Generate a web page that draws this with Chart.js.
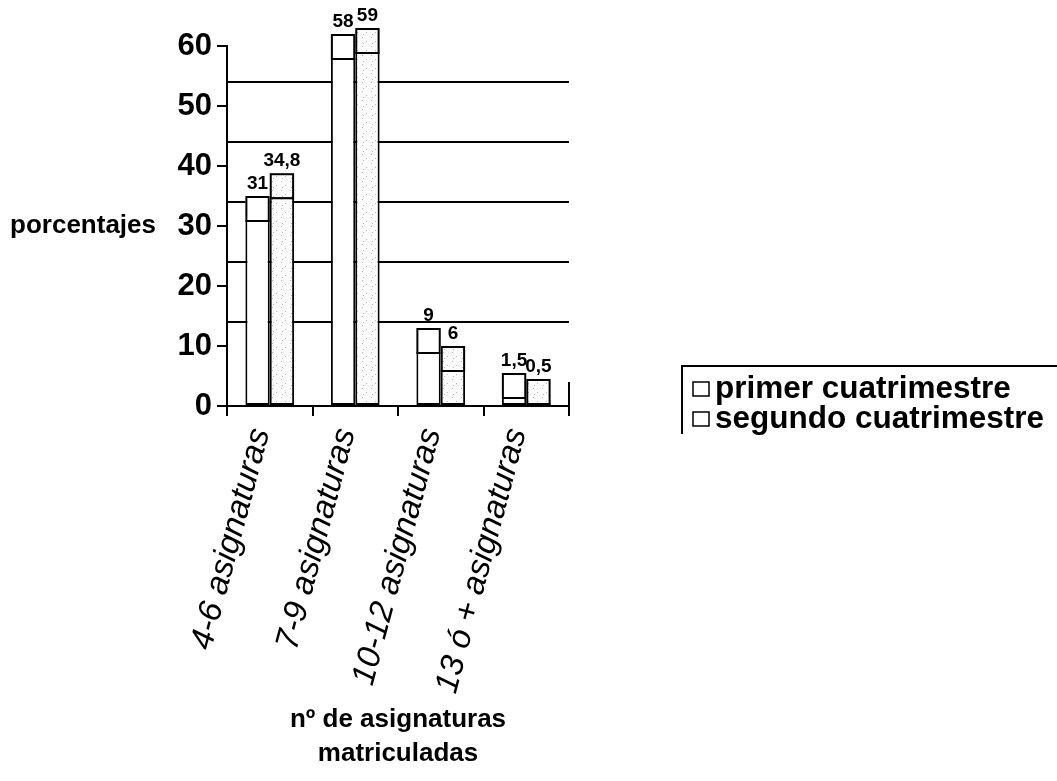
<!DOCTYPE html>
<html>
<head>
<meta charset="utf-8">
<script src="https://cdn.jsdelivr.net/npm/chart.js@4.4.1/dist/chart.umd.min.js"></script>
<style>
  html, body { margin: 0; padding: 0; background: #fff; }
  #wrap { position: relative; width: 1057px; height: 781px; }
</style>
</head>
<body>
<div id="wrap"><canvas id="grafico-asignaturas"></canvas></div>
<script>
const categorias = ["4-6 asignaturas", "7-9 asignaturas", "10-12 asignaturas", "13 ó + asignaturas"];
const primerCuatrimestre = [31, 58, 9, 1.5];
const segundoCuatrimestre = [34.8, 59, 6, 0.5];
const serieNombres = ["primer cuatrimestre", "segundo cuatrimestre"];

// profundidad del efecto 3D, en unidades del eje
const DEPTH = 4;
const FUENTE = "'Liberation Sans', Arial, sans-serif";

const canvas = document.getElementById("grafico-asignaturas");
const ctx0 = canvas.getContext("2d");

// trama punteada clara para el segundo cuatrimestre
function punteado() {
  const c = document.createElement("canvas");
  c.width = 9; c.height = 9;
  const g = c.getContext("2d");
  g.fillStyle = "#fbfbfb";
  g.fillRect(0, 0, 9, 9);
  g.fillStyle = "#b8b8b8";
  g.fillRect(2, 1, 1, 1);
  g.fillRect(6, 5, 1, 1);
  g.fillRect(3, 7, 1, 1);
  return ctx0.createPattern(c, "repeat");
}

const fmt = (v) => String(v).replace(".", ",");

// lineas de la pared del fondo, desplazadas por la profundidad
const paredFondo = {
  id: "paredFondo",
  beforeDatasetsDraw(chart) {
    const { ctx, chartArea, scales: { y } } = chart;
    ctx.save();
    ctx.strokeStyle = "#000";
    ctx.lineWidth = 2;
    y.ticks.forEach((t) => {
      if (t.value <= 0 || t.value >= y.max) return;
      const py = Math.round(y.getPixelForValue(t.value + DEPTH));
      ctx.beginPath();
      ctx.moveTo(chartArea.left, py);
      ctx.lineTo(chartArea.right, py);
      ctx.stroke();
    });
    ctx.beginPath();
    ctx.moveTo(chartArea.right, y.getPixelForValue(0));
    ctx.lineTo(chartArea.right, y.getPixelForValue(DEPTH));
    ctx.stroke();
    ctx.restore();
  },
};

// tapa superior de cada barra y su etiqueta de valor
const tapas = {
  id: "tapas",
  afterDatasetsDraw(chart) {
    const { ctx, scales: { y } } = chart;
    ctx.save();
    chart.data.datasets.forEach((ds, i) => {
      const meta = chart.getDatasetMeta(i);
      meta.data.forEach((bar, j) => {
        const v = ds.data[j];
        const top = y.getPixelForValue(v + DEPTH);
        const left = bar.x - bar.width / 2;
        ctx.fillStyle = ds.backgroundColor;
        ctx.fillRect(left, top, bar.width, bar.y - top);
        ctx.strokeStyle = "#000";
        ctx.lineWidth = 2;
        ctx.strokeRect(left + 1, top + 1, bar.width - 2, bar.y - top);
        ctx.fillStyle = "#000";
        ctx.font = "bold 19px " + FUENTE;
        ctx.textAlign = "center";
        ctx.textBaseline = "alphabetic";
        ctx.fillText(fmt(v), bar.x, top - 7);
      });
    });
    ctx.restore();
  },
};

// titulo horizontal del eje y, a la altura del 30
const tituloY = {
  id: "tituloY",
  afterDraw(chart) {
    const { ctx, chartArea, scales: { y } } = chart;
    ctx.save();
    ctx.fillStyle = "#000";
    ctx.font = "bold 26px " + FUENTE;
    ctx.textAlign = "right";
    ctx.textBaseline = "middle";
    ctx.fillText("porcentajes", chartArea.left - 71, y.getPixelForValue(30));
    ctx.restore();
  },
};

// leyenda con recuadro a la derecha
const leyenda = {
  id: "leyenda",
  afterDraw(chart) {
    const { ctx, chartArea } = chart;
    const x0 = chartArea.right + 113;
    const y0 = 366;
    ctx.save();
    ctx.strokeStyle = "#000";
    ctx.lineWidth = 2;
    ctx.beginPath();
    ctx.moveTo(x0, y0 + 68);
    ctx.lineTo(x0, y0);
    ctx.lineTo(chart.width, y0);
    ctx.stroke();
    ctx.font = "bold 31.5px " + FUENTE;
    ctx.textBaseline = "middle";
    ctx.textAlign = "left";
    chart.data.datasets.forEach((ds, i) => {
      const cy = y0 + 23 + i * 30;
      ctx.fillStyle = "#fff";
      ctx.fillRect(x0 + 11, cy - 7, 16, 14);
      ctx.lineWidth = 1.5;
      ctx.strokeRect(x0 + 11, cy - 7, 16, 14);
      ctx.fillStyle = "#000";
      ctx.fillText(ds.label, x0 + 33, cy);
    });
    ctx.restore();
  },
};

new Chart(canvas, {
  type: "bar",
  data: {
    labels: categorias,
    datasets: [
      {
        label: serieNombres[0],
        data: primerCuatrimestre,
        backgroundColor: "#ffffff",
        borderColor: "#000",
        borderWidth: 2,
        borderSkipped: false,
      },
      {
        label: serieNombres[1],
        data: segundoCuatrimestre,
        backgroundColor: punteado(),
        borderColor: "#000",
        borderWidth: 2,
        borderSkipped: false,
      },
    ],
  },
  options: {
    animation: false,
    responsive: true,
    maintainAspectRatio: false,
    layout: { padding: { top: 46, right: 488, left: 0, bottom: 0 } },
    datasets: { bar: { categoryPercentage: 0.57, barPercentage: 1.0 } },
    plugins: {
      legend: { display: false },
      tooltip: { enabled: false },
    },
    scales: {
      x: {
        afterFit: (scale) => { scale.height = 375; },
        grid: { drawOnChartArea: false, color: "#000", lineWidth: 2, tickLength: 10 },
        border: { color: "#000", width: 2 },
        ticks: {
          color: "#000",
          minRotation: 75,
          maxRotation: 75,
          padding: 8,
          labelOffset: -9,
          font: { family: FUENTE, size: 33, style: "italic" },
        },
        title: {
          display: true,
          text: ["nº de asignaturas", "matriculadas"],
          color: "#000",
          font: { family: FUENTE, size: 26, weight: "bold", lineHeight: 1.3 },
          padding: { top: 0, bottom: 10 },
        },
      },
      y: {
        min: 0,
        max: 60,
        afterFit: (scale) => { scale.width = 227; },
        grid: { drawOnChartArea: false, color: "#000", lineWidth: 2, tickLength: 10 },
        border: { color: "#000", width: 2 },
        ticks: {
          stepSize: 10,
          color: "#000",
          padding: 5,
          font: { family: FUENTE, size: 31, weight: "bold" },
        },
      },
    },
  },
  plugins: [paredFondo, tapas, tituloY, leyenda],
});
</script>
</body>
</html>
